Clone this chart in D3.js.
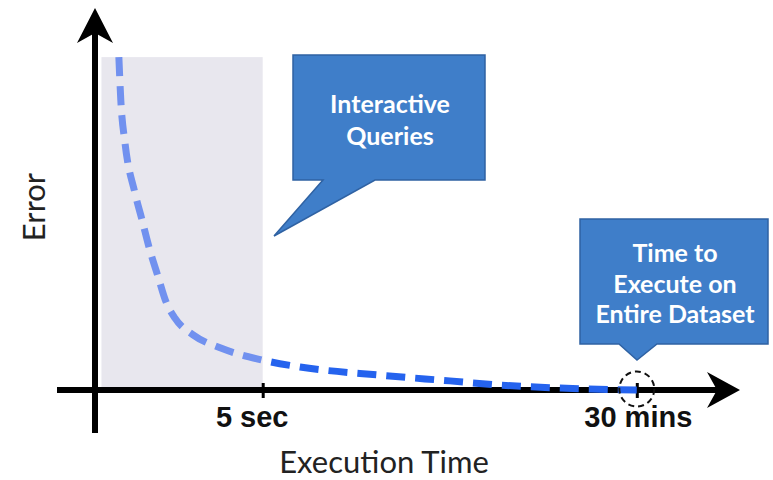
<!DOCTYPE html>
<html>
<head>
    <title>Error vs Execution Time</title>
    <script src="https://d3js.org/d3.v7.min.js"></script>
    <style>
        body { margin: 0; background: #fff; }
        svg { display: block; font-family: Lato, "Open Sans", sans-serif; }
        .tick-label { font-weight: bold; font-size: 29px; fill: #111; }
        .axis-title { font-size: 31px; fill: #222; }
        .callout-text { font-weight: bold; font-size: 25px; fill: #fff; }
    </style>
</head>
<body>
<div id="chart"></div>
<script>
// Error curve (schematic units: time 0-100, error 0-100)
const curveTime  = [3.7, 4.0, 4.65, 6.2, 7.3, 8.5, 9.8, 10.9, 12.4, 15.2, 19.4, 25.9, 31.8, 44.2, 55.0, 62.8, 72.1, 84.0];
const curveError = [87.6, 76.3, 65.0, 51.8, 44.7, 36.8, 29.7, 23.7, 18.9, 14.5, 11.1, 7.9, 6.05, 3.9, 2.4, 1.3, 0.5, 0];

// x-axis ticks
const tickValues = [26, 84];
const tickLabels = ["5 sec", "30 mins"];

// shaded "interactive" window
const interactiveRange = [1, 26];
const interactiveTop = 87.6;

const callout1Lines = ["Interactive", "Queries"];
const callout2Lines = ["Time to", "Execute on", "Entire Dataset"];

const W = 773, H = 480;

const svg = d3.select("#chart").append("svg")
    .attr("width", W)
    .attr("height", H);

const x = d3.scaleLinear().domain([0, 100]).range([95, 740]);
const y = d3.scaleLinear().domain([0, 100]).range([390, 10]);

// grey band
svg.append("rect")
    .attr("x", x(interactiveRange[0]))
    .attr("y", y(interactiveTop))
    .attr("width", x(interactiveRange[1]) - x(interactiveRange[0]))
    .attr("height", y(0) - y(interactiveTop) - 3)
    .attr("fill", "#e8e7ee");

// y axis line + arrow
svg.append("line")
    .attr("x1", x(0)).attr("x2", x(0))
    .attr("y1", 433).attr("y2", y(100) + 20)
    .attr("stroke", "#000").attr("stroke-width", 6);
svg.append("path")
    .attr("d", `M${x(0)},${y(100) - 2} L${x(0) + 18},${y(100) + 33} L${x(0)},${y(100) + 23} L${x(0) - 18},${y(100) + 33} Z`)
    .attr("fill", "#000");

// x axis line + arrow
svg.append("line")
    .attr("x1", 57).attr("x2", x(100) - 20)
    .attr("y1", y(0)).attr("y2", y(0))
    .attr("stroke", "#000").attr("stroke-width", 6);
svg.append("path")
    .attr("d", `M${x(100)},${y(0)} L${x(100) - 33},${y(0) - 18} L${x(100) - 23},${y(0)} L${x(100) - 33},${y(0) + 18} Z`)
    .attr("fill", "#000");

// ticks via d3 axis
const xAxis = svg.append("g")
    .attr("transform", `translate(0,${y(0)})`)
    .call(d3.axisBottom(x)
        .tickValues(tickValues)
        .tickFormat((d, i) => tickLabels[i]));
xAxis.select(".domain").remove();
xAxis.selectAll(".tick line")
    .attr("y1", -7).attr("y2", 8)
    .attr("stroke", "#000").attr("stroke-width", 3);
xAxis.selectAll(".tick text")
    .attr("class", "tick-label")
    .attr("y", 37).attr("dy", 0)
    .attr("dx", (d, i) => i === 0 ? -11 : 1)
    .attr("font-family", null).attr("font-size", null).attr("fill", null);

// dashed error curve, lighter inside the shaded band
const pts = curveTime.map((t, i) => [t, curveError[i]]);
const line = d3.line()
    .x(d => x(d[0]))
    .y(d => y(d[1]))
    .curve(d3.curveMonotoneX);

const defs = svg.append("defs");
defs.append("clipPath").attr("id", "clipL")
    .append("rect").attr("x", 0).attr("y", 0)
    .attr("width", x(interactiveRange[1])).attr("height", H);
defs.append("clipPath").attr("id", "clipR")
    .append("rect").attr("x", x(interactiveRange[1])).attr("y", 0)
    .attr("width", W).attr("height", H);

[["clipL", "#7191ef"], ["clipR", "#2563ee"]].forEach(([clip, col]) => {
    svg.append("path")
        .datum(pts)
        .attr("d", line)
        .attr("fill", "none")
        .attr("stroke", col)
        .attr("stroke-width", 7)
        .attr("stroke-dasharray", "19 10")
        .attr("clip-path", `url(#${clip})`);
});

// dashed circle at 30 mins
svg.append("circle")
    .attr("cx", x(tickValues[1]))
    .attr("cy", y(0) - 1)
    .attr("r", 17.5)
    .attr("fill", "none")
    .attr("stroke", "#111")
    .attr("stroke-width", 2)
    .attr("stroke-dasharray", "6 4");

// callouts
function callout(box, tail, lines, cx, baselines) {
    const [x0, y0, x1, y1] = box;
    const [ba, tip, bb] = tail;
    svg.append("path")
        .attr("d", `M${x0},${y0} H${x1} V${y1} H${bb} L${tip[0]},${tip[1]} L${ba},${y1} H${x0} Z`)
        .attr("fill", "#3f7ec9")
        .attr("stroke", "#2f62a3")
        .attr("stroke-width", 1.5)
        .attr("stroke-linejoin", "miter");
    lines.forEach((t, i) => {
        svg.append("text")
            .attr("class", "callout-text")
            .attr("x", cx)
            .attr("y", baselines[i])
            .attr("text-anchor", "middle")
            .text(t);
    });
}
callout([293, 55, 485, 180], [323, [274, 236], 375], callout1Lines, 390, [113, 145]);
callout([580, 219, 768, 344], [619, [637, 360], 657], callout2Lines, 675, [262, 293, 323]);

// axis titles
svg.append("text")
    .attr("class", "axis-title")
    .attr("transform", "translate(45,207) rotate(-90)")
    .attr("text-anchor", "middle")
    .text("Error");
svg.append("text")
    .attr("class", "axis-title")
    .attr("x", 384)
    .attr("y", 473)
    .attr("text-anchor", "middle")
    .text("Execution Time");
</script>
</body>
</html>
